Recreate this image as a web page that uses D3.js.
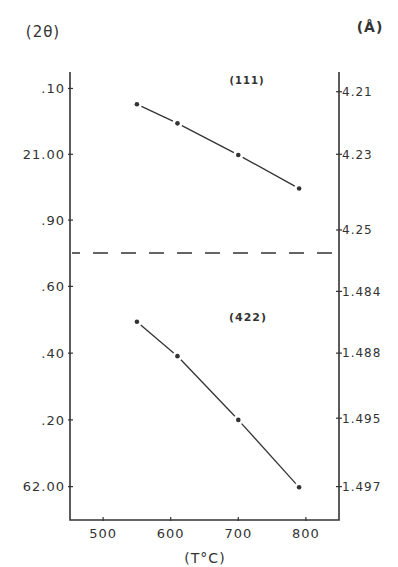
<!DOCTYPE html>
<html>
<head>
<meta charset="utf-8">
<script src="https://cdn.jsdelivr.net/npm/d3@7"></script>
<style>
body { margin: 0; background: #fff; }
text { font-family: "DejaVu Sans", sans-serif; fill: #333; letter-spacing: 1px; }
</style>
</head>
<body>
<script>
// temperatures (T °C) of the measured points
var temps = [550, 610, 700, 790];
// 2θ of the (111) and (422) reflections
var theta111 = [21.076, 21.047, 20.999, 20.948];
var theta422 = [62.494, 62.391, 62.200, 61.998];

var xTicks = [500, 600, 700, 800];

var topTicks = [21.10, 21.00, 20.90];
var topTickLabels = ['.10', '21.00', '.90'];
var bottomTicks = [62.60, 62.40, 62.20, 62.00];
var bottomTickLabels = ['.60', '.40', '.20', '62.00'];

// d-spacing (Å) on the right, placed at the 2θ they correspond to
var dTopLabels = ['4.21', '4.23', '4.25'];
var dTopTheta = [21.095, 21.00, 20.885];
var dBottomLabels = ['1.484', '1.488', '1.495', '1.497'];
var dBottomTheta = [62.585, 62.40, 62.205, 62.00];

var svg = d3.select('body').append('svg')
    .attr('width', 398)
    .attr('height', 567);

var frame = { left: 70, right: 339, top: 72, bottom: 520, breakY: 253 };
var ink = '#333';

var x = d3.scaleLinear().domain([451, 849]).range([frame.left, frame.right]);
var yTop = d3.scaleLinear().domain([20.85, 21.125]).range([frame.breakY, frame.top]);
var yBot = d3.scaleLinear().domain([61.9, 62.7]).range([frame.bottom, frame.breakY]);

// frame: left, bottom, right
svg.append('path')
    .attr('d', 'M' + frame.left + ',' + frame.top + 'V' + frame.bottom +
        'H' + frame.right + 'V' + frame.top)
    .attr('fill', 'none')
    .attr('stroke', ink)
    .attr('stroke-width', 1.6);

// break line
svg.append('line')
    .attr('x1', frame.left + 2).attr('x2', frame.right - 7)
    .attr('y1', frame.breakY).attr('y2', frame.breakY)
    .attr('stroke', ink)
    .attr('stroke-width', 1.3)
    .attr('stroke-dasharray', '15,13')
    .attr('stroke-dashoffset', 7);

function leftTicks(scale, vals, labels) {
    var g = svg.append('g');
    g.selectAll('line').data(vals).enter().append('line')
        .attr('x1', frame.left - 2).attr('x2', frame.left + 3)
        .attr('y1', function (d) { return scale(d); })
        .attr('y2', function (d) { return scale(d); })
        .attr('stroke', ink).attr('stroke-width', 1.2);
    g.selectAll('text').data(vals).enter().append('text')
        .attr('x', frame.left - 5)
        .attr('y', function (d) { return scale(d); })
        .attr('dy', '0.36em')
        .attr('text-anchor', 'end')
        .style('font-size', '13px')
        .text(function (d, i) { return labels[i]; });
}

function rightTicks(scale, vals, labels) {
    var g = svg.append('g');
    g.selectAll('line').data(vals).enter().append('line')
        .attr('x1', frame.right - 3).attr('x2', frame.right + 3)
        .attr('y1', function (d) { return scale(d); })
        .attr('y2', function (d) { return scale(d); })
        .attr('stroke', ink).attr('stroke-width', 1.2);
    g.selectAll('text').data(vals).enter().append('text')
        .attr('x', frame.right + 3)
        .attr('y', function (d) { return scale(d); })
        .attr('dy', '0.36em')
        .style('font-size', '12px')
        .text(function (d, i) { return labels[i]; });
}

leftTicks(yTop, topTicks, topTickLabels);
leftTicks(yBot, bottomTicks, bottomTickLabels);
rightTicks(yTop, dTopTheta, dTopLabels);
rightTicks(yBot, dBottomTheta, dBottomLabels);

// x ticks
var gx = svg.append('g');
gx.selectAll('line').data(xTicks).enter().append('line')
    .attr('x1', function (d) { return x(d); })
    .attr('x2', function (d) { return x(d); })
    .attr('y1', frame.bottom - 3).attr('y2', frame.bottom + 1)
    .attr('stroke', ink).attr('stroke-width', 1.2);
gx.selectAll('text').data(xTicks).enter().append('text')
    .attr('x', function (d) { return x(d); })
    .attr('y', frame.bottom + 18)
    .attr('text-anchor', 'middle')
    .style('font-size', '13px')
    .text(function (d) { return d; });

// data: dots joined by segments that stop short of each dot
function series(scale, vals) {
    var pts = temps.map(function (t, i) { return [x(t), scale(vals[i])]; });
    var segs = d3.pairs(pts).map(function (p) {
        var dx = p[1][0] - p[0][0], dy = p[1][1] - p[0][1];
        var len = Math.sqrt(dx * dx + dy * dy), gap = 5;
        return [p[0][0] + dx * gap / len, p[0][1] + dy * gap / len,
                p[1][0] - dx * gap / len, p[1][1] - dy * gap / len];
    });
    svg.append('g').selectAll('line').data(segs).enter().append('line')
        .attr('x1', function (s) { return s[0]; })
        .attr('y1', function (s) { return s[1]; })
        .attr('x2', function (s) { return s[2]; })
        .attr('y2', function (s) { return s[3]; })
        .attr('stroke', ink)
        .attr('stroke-width', 1.3);
    svg.append('g').selectAll('circle').data(pts).enter().append('circle')
        .attr('cx', function (p) { return p[0]; })
        .attr('cy', function (p) { return p[1]; })
        .attr('r', 2.3)
        .attr('fill', ink);
}

series(yTop, theta111);
series(yBot, theta422);

// labels
svg.append('text').attr('x', 247).attr('y', 80).attr('dy', '0.35em')
    .attr('text-anchor', 'middle').style('font-size', '10px').style('font-weight', 'bold')
    .text('(111)');
svg.append('text').attr('x', 248).attr('y', 317).attr('dy', '0.35em')
    .attr('text-anchor', 'middle').style('font-size', '11px').style('font-weight', 'bold')
    .text('(422)');
svg.append('text').attr('x', 43).attr('y', 32).attr('dy', '0.35em')
    .attr('text-anchor', 'middle').style('font-size', '15px')
    .text('(2θ)');
svg.append('text').attr('x', 370).attr('y', 27).attr('dy', '0.35em')
    .attr('text-anchor', 'middle').style('font-size', '14px').style('font-weight', 'bold')
    .text('(Å)');
svg.append('text').attr('x', 205).attr('y', 558).attr('dy', '0.35em')
    .attr('text-anchor', 'middle').style('font-size', '14px')
    .text('(T°C)');
</script>
</body>
</html>
